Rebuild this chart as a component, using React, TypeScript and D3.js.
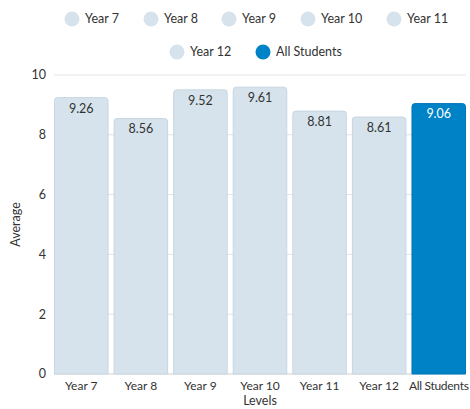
import React from "react";
import * as d3 from "d3";

const categories = ["Year 7", "Year 8", "Year 9", "Year 10", "Year 11", "Year 12", "All Students"];
const averages = [9.26, 8.56, 9.52, 9.61, 8.81, 8.61, 9.06];
const yTicks = [0, 2, 4, 6, 8, 10];
const legendRow1 = ["Year 7", "Year 8", "Year 9", "Year 10", "Year 11"];
const legendRow2 = ["Year 12", "All Students"];

const W = 470;
const H = 409;
const margin = { left: 54, right: 4, top: 75, bottom: 35 };
const LIGHT = "#d6e3ec";
const DARK = "#0082c6";
const FONT = "Lato, 'Open Sans', sans-serif";

function colorFor(name: string) {
  return name === "All Students" ? DARK : LIGHT;
}

function roundedTopBar(x: number, y: number, w: number, h: number, r: number) {
  return `M${x},${y + h}V${y + r}Q${x},${y} ${x + r},${y}H${x + w - r}Q${x + w},${y} ${x + w},${y + r}V${y + h}Z`;
}

export default function App() {
  const x = d3
    .scaleBand<string>()
    .domain(categories)
    .range([margin.left, W - margin.right])
    .paddingInner(0.085)
    .paddingOuter(0.0);
  const y = d3.scaleLinear().domain([0, 10]).range([H - margin.bottom, margin.top]);

  const legendX1 = [72, 151, 229, 308, 394];
  const legendX2 = [177, 263];

  return (
    <svg
      width={W}
      height={H}
      style={{ position: "absolute", left: 0, top: 0, background: "#fff" }}
      fontFamily={FONT}
    >
      {/* gridlines */}
      {yTicks.map((t) => (
        <line
          key={t}
          x1={margin.left}
          x2={W - margin.right}
          y1={y(t)}
          y2={y(t)}
          stroke={t === 0 ? "#cfcfcf" : "#e3e3e3"}
          strokeWidth={1}
        />
      ))}
      {yTicks.map((t) => (
        <text key={t} x={46} y={y(t)} dy="0.35em" textAnchor="end" fontSize={12.5} fill="#333">
          {t}
        </text>
      ))}
      <text
        transform={`translate(20,${(y(0) + y(10)) / 2}) rotate(-90)`}
        textAnchor="middle"
        fontSize={12.5}
        fill="#333"
      >
        Average
      </text>

      {/* bars */}
      {categories.map((c, i) => {
        const bx = x(c)!;
        const bw = x.bandwidth();
        const top = y(averages[i]);
        const h = y(0) - top;
        const dark = c === "All Students";
        return (
          <g key={c}>
            <path
              d={roundedTopBar(bx + 0.5, top + 0.5, bw - 1, h - 0.5, 3)}
              fill={colorFor(c)}
              stroke={dark ? "#0078b8" : "#c8d6e1"}
              strokeWidth={1}
            />
            <text
              x={bx + bw / 2}
              y={top + 11}
              dy="0.35em"
              textAnchor="middle"
              fontSize={12.5}
              fill={dark ? "#fff" : "#333"}
            >
              {averages[i].toFixed(2)}
            </text>
            <text
              x={bx + bw / 2}
              y={390}
              textAnchor="middle"
              fontSize={12}
              letterSpacing={dark ? -0.3 : 0}
              fill="#333"
            >
              {c}
            </text>
          </g>
        );
      })}

      <text x={(margin.left + W - margin.right) / 2} y={405} textAnchor="middle" fontSize={12.5} fill="#333">
        Levels
      </text>

      {/* legend */}
      {legendRow1.map((n, i) => (
        <g key={n}>
          <circle cx={legendX1[i]} cy={19} r={7.5} fill={colorFor(n)} />
          <text x={legendX1[i] + 13} y={19} dy="0.35em" fontSize={12.5} fill="#333">
            {n}
          </text>
        </g>
      ))}
      {legendRow2.map((n, i) => (
        <g key={n}>
          <circle cx={legendX2[i]} cy={52} r={7.5} fill={colorFor(n)} />
          <text x={legendX2[i] + 13} y={52} dy="0.35em" fontSize={12.5} fill="#333">
            {n}
          </text>
        </g>
      ))}
    </svg>
  );
}
